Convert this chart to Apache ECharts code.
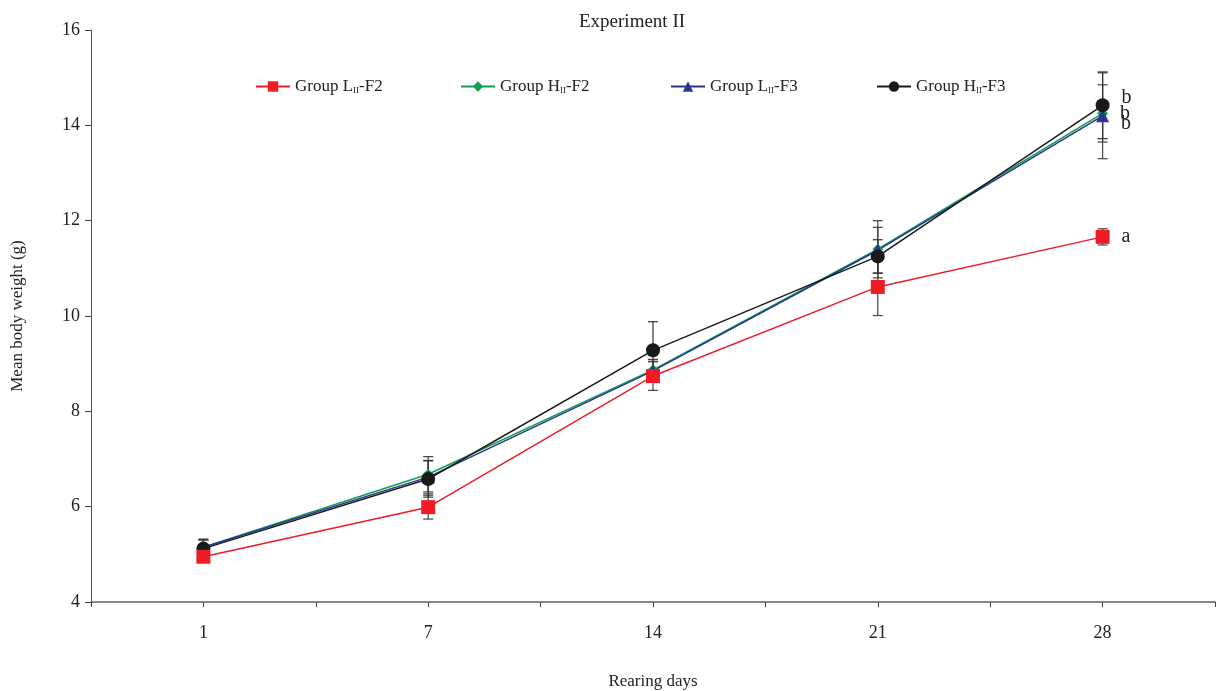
<!DOCTYPE html>
<html><head><meta charset="utf-8">
<script src="https://cdn.jsdelivr.net/npm/echarts@6/dist/echarts.min.js"></script>
<style>html,body{margin:0;padding:0;background:#fff}#c{width:1217px;height:691px}</style>
</head><body><div id="c"></div>
<script>
const categories = ['1', '7', '14', '21', '28'];
const yTicks = [4, 6, 8, 10, 12, 14, 16];
const lF2 = [4.95, 5.99, 8.74, 10.61, 11.66];
const lF2Err = [0.12, 0.25, 0.30, 0.60, 0.17];
const hF2 = [5.15, 6.68, 8.87, 11.40, 14.25];
const hF2Err = [0.15, 0.37, 0.22, 0.60, 0.60];
const lF3 = [5.15, 6.62, 8.85, 11.38, 14.20];
const lF3Err = [0.15, 0.35, 0.20, 0.48, 0.90];
const hF3 = [5.12, 6.58, 9.28, 11.25, 14.42];
const hF3Err = [0.20, 0.38, 0.60, 0.35, 0.70];
const sigLetters = ['a', 'b', 'b', 'b'];
const seriesNames = ['Group L{s|II}-F2', 'Group H{s|II}-F2', 'Group L{s|II}-F3', 'Group H{s|II}-F3'];

const FONT = 'Liberation Serif';
const pos = i => 2 * i + 1;
const toPts = arr => arr.map((v, i) => [pos(i), v]);
const toErr = (arr, err) => arr.map((v, i) => [pos(i), v - err[i], v + err[i]]);

function errSeries(arr, err, color) {
  return {
    type: 'custom', z: 1, silent: true,
    data: toErr(arr, err),
    renderItem: function (params, api) {
      const x = api.value(0);
      const lo = api.coord([x, api.value(1)]);
      const hi = api.coord([x, api.value(2)]);
      const w = 5;
      const st = { stroke: color, lineWidth: 1.2 };
      return { type: 'group', children: [
        { type: 'line', shape: { x1: lo[0], y1: lo[1], x2: hi[0], y2: hi[1] }, style: st },
        { type: 'line', shape: { x1: lo[0] - w, y1: lo[1], x2: lo[0] + w, y2: lo[1] }, style: st },
        { type: 'line', shape: { x1: hi[0] - w, y1: hi[1], x2: hi[0] + w, y2: hi[1] }, style: st }
      ]};
    }
  };
}

function lineSeries(name, arr, color, symbol, size, letter, offY) {
  return {
    name: name, type: 'line', z: 3, data: toPts(arr),
    symbol: symbol, symbolSize: size,
    lineStyle: { color: color, width: 1.5 },
    itemStyle: { color: color },
    label: {
      show: true, position: 'right', distance: 12, offset: [0, offY],
      fontFamily: FONT, fontSize: 20, color: '#222',
      formatter: p => p.dataIndex === arr.length - 1 ? letter : ''
    }
  };
}

const legendText = { fontFamily: FONT, fontSize: 17, color: '#222',
  rich: { s: { fontFamily: FONT, fontSize: 9, color: '#222', padding: [8, 0, 0, 0] } } };
function mkLegend(name, left) {
  return { data: [name], left: left, top: 73, itemWidth: 34, itemHeight: 13, itemGap: 0,
    textStyle: legendText, selectedMode: false };
}

const chart = echarts.init(document.getElementById('c'));
chart.setOption({
  animation: false,
  title: { text: 'Experiment II', left: 574, top: 8,
    textStyle: { fontFamily: FONT, fontSize: 19, fontWeight: 'normal', color: '#222' } },
  legend: [mkLegend(seriesNames[0], 250), mkLegend(seriesNames[1], 455), mkLegend(seriesNames[2], 665), mkLegend(seriesNames[3], 871)],
  grid: { left: 91, right: 2, top: 30, bottom: 89, containLabel: false, outerBoundsMode: 'none' },
  xAxis: {
    type: 'value', min: 0, max: 10, interval: 1,
    name: 'Rearing days', nameLocation: 'middle', nameGap: 71,
    nameTextStyle: { fontFamily: FONT, fontSize: 17, color: '#222' },
    axisLine: { lineStyle: { color: '#888', width: 2 } },
    axisTick: { show: true, length: 5, lineStyle: { color: '#444' } },
    splitLine: { show: false },
    axisLabel: { fontFamily: FONT, fontSize: 18, color: '#222', margin: 22,
      formatter: v => (v % 2 === 1 ? categories[(v - 1) / 2] : '') }
  },
  yAxis: {
    type: 'value', min: yTicks[0], max: yTicks[yTicks.length - 1], interval: 2,
    name: 'Mean body weight (g)', nameLocation: 'middle', nameGap: 65,
    nameTextStyle: { fontFamily: FONT, fontSize: 17, color: '#222' },
    axisLine: { show: true, lineStyle: { color: '#555', width: 1 } },
    axisTick: { show: true, length: 6, lineStyle: { color: '#444' } },
    splitLine: { show: false },
    axisLabel: { fontFamily: FONT, fontSize: 18, color: '#222', margin: 11 }
  },
  series: [
    errSeries(lF2, lF2Err, '#444'),
    errSeries(hF2, hF2Err, '#444'),
    errSeries(lF3, lF3Err, '#444'),
    errSeries(hF3, hF3Err, '#333'),
    lineSeries(seriesNames[1], hF2, '#10a050', 'diamond', 11, sigLetters[1], 0),
    lineSeries(seriesNames[2], lF3, '#283593', 'triangle', 13, sigLetters[2], 8),
    lineSeries(seriesNames[3], hF3, '#1a1a1a', 'circle', 14, sigLetters[3], -8),
    lineSeries(seriesNames[0], lF2, '#ee1c25', 'rect', 14, sigLetters[0], 0)
  ]
});
</script></body></html>
